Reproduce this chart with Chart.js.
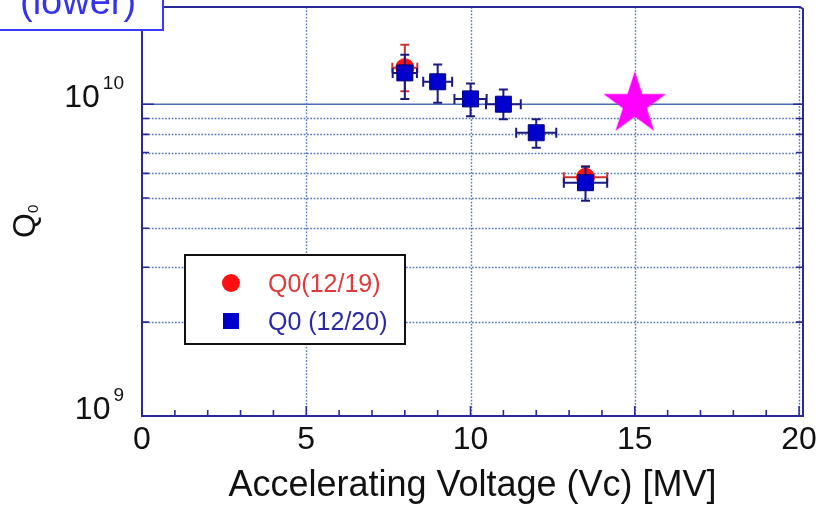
<!DOCTYPE html>
<html>
<head>
<meta charset="utf-8">
<script src="https://cdn.jsdelivr.net/npm/chart.js@4.4.1/dist/chart.umd.min.js"></script>
<style>
  body { margin: 0; background: #fff; }
  #chart { display: block; }
</style>
</head>
<body>
<canvas id="chart" width="817" height="505"></canvas>
<script>
var FONT = "'Liberation Sans', Arial, sans-serif";

// Q0 vs Vc, 12/20 run
var voltB = [8, 9, 10, 11, 12, 13.5];
var voltBErr = [0.37, 0.44, 0.49, 0.53, 0.61, 0.66];
var q0B = [1.26e10, 1.18e10, 1.04e10, 1.0e10, 8.1e9, 5.6e9];
var q0BHi = [1.44e10, 1.34e10, 1.165e10, 1.115e10, 8.95e9, 6.3e9];
var q0BLo = [1.04e10, 1.01e10, 0.915e10, 0.895e10, 7.25e9, 4.9e9];

// Q0 vs Vc, 12/19 run
var voltR = [8, 13.5];
var voltRErr = [0.38, 0.66];
var q0R = [1.31e10, 5.83e9];
var q0RHi = [1.55e10, 6.32e9];
var q0RLo = [1.10e10, 5.35e9];

// design goal
var goalV = [15];
var goalQ = [1e10];

var xTicks = [0, 5, 10, 15, 20];
var xMinor = [1, 2, 3, 4, 6, 7, 8, 9, 11, 12, 13, 14, 16, 17, 18, 19];
var yDecades = [1e9, 1e10];
var yExp = ["9", "10"];
var yMinor = [2e9, 3e9, 4e9, 5e9, 6e9, 7e9, 8e9, 9e9];

var labelB = "Q0 (12/20)";
var labelR = "Q0(12/19)";

var FRAME = "#2a2a96";
var GRID = "#5579bb";

function makeStar(r, color) {
  var c = document.createElement("canvas");
  var s = Math.ceil(r * 2) + 2;
  c.width = s;
  c.height = s;
  var g = c.getContext("2d");
  g.fillStyle = color;
  g.beginPath();
  for (var i = 0; i < 10; i++) {
    var rad = i % 2 === 0 ? r : r * 0.382;
    var a = -Math.PI / 2 + i * Math.PI / 5;
    g.lineTo(s / 2 + rad * Math.cos(a), s / 2 + rad * Math.sin(a));
  }
  g.closePath();
  g.fill();
  return c;
}

function pts(xs, ys) {
  var out = [];
  for (var i = 0; i < xs.length; i++) out.push({ x: xs[i], y: ys[i] });
  return out;
}

// error bars, keyed by dataset index
var errSets = {
  0: { v: voltB, dv: voltBErr, q: q0B, hi: q0BHi, lo: q0BLo, color: "#1a1a80" },
  1: { v: voltR, dv: voltRErr, q: q0R, hi: q0RHi, lo: q0RLo, color: "#c83434" }
};

var errBars = {
  id: "errBars",
  beforeDatasetDraw: function (chart, args) {
    var e = errSets[args.index];
    if (!e) return;
    var xs = chart.scales.x, ys = chart.scales.y, ctx = chart.ctx;
    ctx.save();
    ctx.strokeStyle = e.color;
    ctx.lineWidth = 2;
    for (var i = 0; i < e.v.length; i++) {
      var px = xs.getPixelForValue(e.v[i]);
      var py = ys.getPixelForValue(e.q[i]);
      var x0 = xs.getPixelForValue(e.v[i] - e.dv[i]);
      var x1 = xs.getPixelForValue(e.v[i] + e.dv[i]);
      var yt = ys.getPixelForValue(e.hi[i]);
      var yb = ys.getPixelForValue(e.lo[i]);
      ctx.beginPath();
      ctx.moveTo(x0, py); ctx.lineTo(x1, py);
      ctx.moveTo(px, yt); ctx.lineTo(px, yb);
      ctx.moveTo(x0, py - 5); ctx.lineTo(x0, py + 5);
      ctx.moveTo(x1, py - 5); ctx.lineTo(x1, py + 5);
      ctx.moveTo(px - 4.5, yt); ctx.lineTo(px + 4.5, yt);
      ctx.moveTo(px - 4.5, yb); ctx.lineTo(px + 4.5, yb);
      ctx.stroke();
    }
    ctx.restore();
  }
};

var gridLines = {
  id: "gridLines",
  beforeDatasetsDraw: function (chart) {
    var a = chart.chartArea, xs = chart.scales.x, ys = chart.scales.y, ctx = chart.ctx;
    ctx.save();
    ctx.strokeStyle = GRID;
    ctx.lineWidth = 1.4;
    ctx.setLineDash([1.7, 1.6]);
    ctx.beginPath();
    yMinor.forEach(function (v) {
      var py = Math.round(ys.getPixelForValue(v)) + 0.5;
      ctx.moveTo(a.left, py); ctx.lineTo(a.right, py);
    });
    xTicks.forEach(function (v) {
      if (v === 0) return;
      var px = Math.round(xs.getPixelForValue(v)) + 0.5;
      ctx.moveTo(px, a.top); ctx.lineTo(px, a.bottom);
    });
    ctx.stroke();
    ctx.setLineDash([]);
    ctx.strokeStyle = "#4a6fb5";
    ctx.lineWidth = 1.6;
    ctx.beginPath();
    var py10 = ys.getPixelForValue(1e10);
    ctx.moveTo(a.left, py10); ctx.lineTo(a.right, py10);
    ctx.stroke();
    ctx.restore();
  }
};

var decor = {
  id: "decor",
  afterDraw: function (chart) {
    var a = chart.chartArea, xs = chart.scales.x, ys = chart.scales.y, ctx = chart.ctx;
    ctx.save();

    // tick marks pointing inward
    ctx.strokeStyle = FRAME;
    ctx.lineWidth = 1.6;
    ctx.beginPath();
    xMinor.forEach(function (v) {
      var px = xs.getPixelForValue(v);
      ctx.moveTo(px, a.bottom); ctx.lineTo(px, a.bottom - 6);
    });
    xTicks.forEach(function (v) {
      var px = xs.getPixelForValue(v);
      ctx.moveTo(px, a.bottom); ctx.lineTo(px, a.bottom - 10);
    });
    yMinor.forEach(function (v) {
      var py = ys.getPixelForValue(v);
      ctx.moveTo(a.left, py); ctx.lineTo(a.left + 7, py);
      ctx.moveTo(a.right, py); ctx.lineTo(a.right - 7, py);
    });
    yDecades.forEach(function (v) {
      var py = ys.getPixelForValue(v);
      ctx.moveTo(a.left, py); ctx.lineTo(a.left + 12, py);
      ctx.moveTo(a.right, py); ctx.lineTo(a.right - 10, py);
    });
    ctx.stroke();

    // frame
    ctx.lineWidth = 2;
    ctx.beginPath();
    ctx.moveTo(a.left, a.top);
    ctx.lineTo(a.left, a.bottom);
    ctx.lineTo(a.right, a.bottom);
    ctx.lineTo(a.right, a.top + 2);
    ctx.lineTo(a.right - 3, a.top);
    ctx.lineTo(a.left, a.top);
    ctx.stroke();

    // x tick labels and title
    ctx.fillStyle = "#111";
    ctx.textAlign = "center";
    ctx.textBaseline = "alphabetic";
    ctx.font = "32px " + FONT;
    xTicks.forEach(function (v) {
      ctx.fillText(String(v), xs.getPixelForValue(v), 449);
    });
    ctx.font = "36px " + FONT;
    ctx.fillText("Accelerating Voltage (Vc) [MV]", (a.left + a.right) / 2, 496);

    // y tick labels as 10^n
    ctx.textAlign = "right";
    yDecades.forEach(function (v, i) {
      var py = ys.getPixelForValue(v);
      ctx.font = "19px " + FONT;
      ctx.fillText(yExp[i], 124, py - 15);
      var ew = ctx.measureText(yExp[i]).width;
      ctx.font = "32px " + FONT;
      ctx.fillText("10", 124 - ew - 3, py + 3);
    });

    // y title Q0
    ctx.save();
    ctx.translate(35, 238);
    ctx.rotate(-Math.PI / 2);
    ctx.textAlign = "left";
    ctx.font = "32px " + FONT;
    ctx.fillText("Q", 0, 0);
    var qw = ctx.measureText("Q").width;
    ctx.font = "15px " + FONT;
    ctx.fillText("0", qw, 3);
    ctx.restore();

    // legend
    ctx.fillStyle = "#fff";
    ctx.fillRect(185, 255, 220, 89);
    ctx.strokeStyle = "#111";
    ctx.lineWidth = 2;
    ctx.strokeRect(185, 255, 220, 89);
    ctx.fillStyle = "#ff1010";
    ctx.beginPath();
    ctx.arc(231, 283, 9, 0, Math.PI * 2);
    ctx.fill();
    ctx.fillStyle = "#0000cc";
    ctx.fillRect(223, 313, 16, 16);
    ctx.textAlign = "left";
    ctx.font = "25px " + FONT;
    ctx.fillStyle = "#e03a3a";
    ctx.fillText(labelR, 268, 292);
    ctx.fillStyle = "#2a2aa8";
    ctx.fillText(labelB, 268, 330);

    // cavity tag in the corner
    ctx.fillStyle = "#fff";
    ctx.fillRect(0, 0, 163, 30);
    ctx.strokeStyle = "#3a3aff";
    ctx.lineWidth = 2;
    ctx.strokeRect(-2, -30, 165, 60);
    ctx.fillStyle = "#3434ee";
    ctx.font = "38px " + FONT;
    ctx.fillText("(lower)", 20, 14);

    ctx.restore();
  }
};

var whiteBg = {
  id: "whiteBg",
  beforeDraw: function (chart) {
    var ctx = chart.ctx;
    ctx.save();
    ctx.fillStyle = "#fff";
    ctx.fillRect(0, 0, chart.width, chart.height);
    ctx.restore();
  }
};

var ctx = document.getElementById("chart").getContext("2d");
var chart = new Chart(ctx, {
  type: "scatter",
  data: {
    datasets: [
      {
        label: labelB,
        data: pts(voltB, q0B),
        pointStyle: "rect",
        pointRadius: 11.3,
        backgroundColor: "#0000cc",
        borderColor: "#00007a",
        borderWidth: 1
      },
      {
        label: labelR,
        data: pts(voltR, q0R),
        pointStyle: "circle",
        pointRadius: 9,
        backgroundColor: "#ff1010",
        borderColor: "#ff1010",
        borderWidth: 1
      },
      {
        label: "goal",
        data: pts(goalV, goalQ),
        pointStyle: makeStar(33, "#ff00ff"),
        pointRadius: 33
      }
    ]
  },
  options: {
    responsive: false,
    animation: false,
    devicePixelRatio: 1,
    events: [],
    layout: { autoPadding: false, padding: { top: 7, right: 14, bottom: 0, left: 0 } },
    plugins: {
      legend: { display: false },
      tooltip: { enabled: false }
    },
    scales: {
      x: {
        type: "linear",
        min: 0,
        max: 20.12,
        afterBuildTicks: function (s) { s.ticks = xTicks.map(function (v) { return { value: v }; }); },
        afterFit: function (s) { s.height = 89; },
        grid: { display: false },
        border: { display: false },
        ticks: { display: false }
      },
      y: {
        type: "logarithmic",
        min: 1e9,
        max: 2.05e10,
        afterFit: function (s) { s.width = 142; },
        grid: { display: false },
        border: { display: false },
        ticks: { display: false }
      }
    }
  },
  plugins: [whiteBg, gridLines, errBars, decor]
});
</script>
</body>
</html>
